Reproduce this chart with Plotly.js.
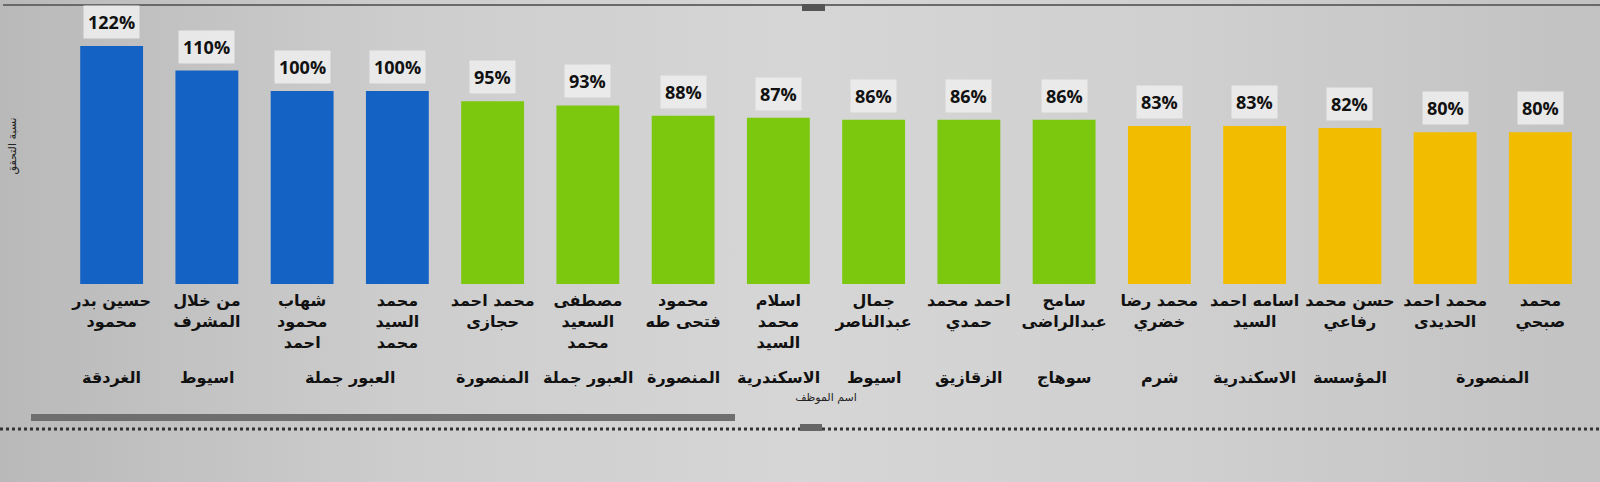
<!DOCTYPE html>
<html>
<head>
<meta charset="utf-8">
<script src="https://cdn.plot.ly/plotly-3.0.1.min.js"></script>
<style>
  html, body { margin: 0; padding: 0; }
  body {
    width: 1600px; height: 482px; overflow: hidden;
    background: linear-gradient(90deg, #b9b9b9 0%, #cdcdcd 25%, #d6d6d6 50%, #cfcfcf 75%, #c2c2c2 100%);
  }
  #chart { width: 1600px; height: 482px; }
</style>
</head>
<body>
<div id="chart"></div>
<script>
// Employee names (tick labels)
const names = [
  "حسين بدر<br>محمود",
  "من خلال<br>المشرف",
  "شهاب<br>محمود<br>احمد",
  "محمد<br>السيد<br>محمد",
  "محمد احمد<br>حجازى",
  "مصطفى<br>السعيد<br>محمد",
  "محمود<br>فتحى طه",
  "اسلام<br>محمد<br>السيد",
  "جمال<br>عبدالناصر",
  "احمد محمد<br>حمدي",
  "سامح<br>عبدالراضى",
  "محمد رضا<br>خضري",
  "اسامه احمد<br>السيد",
  "حسن محمد<br>رفاعي",
  "محمد احمد<br>الحديدى",
  "محمد<br>صبحي"
];
// Branch (outer hierarchy level)
const branches = [
  "الغردقة", "اسيوط", "العبور جملة", "العبور جملة", "المنصورة", "العبور جملة",
  "المنصورة", "الاسكندرية", "اسيوط", "الزقازيق", "سوهاج", "شرم",
  "الاسكندرية", "المؤسسة", "المنصورة", "المنصورة"
];
// Achievement percentage
const achievement = [122, 110, 100, 100, 95, 93, 88, 87, 86, 86, 86, 83, 83, 82, 80, 80];
// Performance band per bar
const band = ["high","high","high","high","mid","mid","mid","mid","mid","mid","mid","low","low","low","low","low"];

const bandColors = { high: "#1463c4", mid: "#7cc80f", low: "#f2bd00" };
const colors = band.map(b => bandColors[b]);

const plotTop = 8, plotBottom = 284;
const plotH = plotBottom - plotTop;
const toPaperY = px => (plotBottom - px) / plotH;

const trace = {
  type: "bar",
  x: names,
  y: achievement,
  marker: { color: colors, line: { width: 0 } },
  hoverinfo: "x+y"
};

const annotations = [];
// data labels
achievement.forEach((v, i) => {
  annotations.push({
    x: i, y: v, xref: "x", yref: "y",
    text: v + "%",
    showarrow: false,
    yanchor: "bottom",
    yshift: 7,
    bgcolor: "rgba(236,236,236,0.92)",
    borderpad: 4,
    font: { family: "Open Sans, Noto Sans, sans-serif", size: 18, color: "#111", weight: 700 }
  });
});
// branch labels (contiguous runs)
let start = 0;
for (let i = 1; i <= branches.length; i++) {
  if (i === branches.length || branches[i] !== branches[start]) {
    annotations.push({
      x: (start + i - 1) / 2, xref: "x",
      y: toPaperY(377), yref: "paper",
      yanchor: "middle",
      text: branches[start],
      showarrow: false,
      font: { family: "DejaVu Sans, sans-serif", size: 16, color: "#111", weight: 700 }
    });
    start = i;
  }
}

const layout = {
  width: 1600, height: 482,
  margin: { l: 64, r: 12, t: plotTop, b: 482 - plotBottom },
  paper_bgcolor: "rgba(0,0,0,0)",
  plot_bgcolor: "rgba(0,0,0,0)",
  bargap: 0.34,
  showlegend: false,
  xaxis: {
    type: "category",
    tickfont: { family: "DejaVu Sans, sans-serif", size: 16, color: "#111", weight: 700 },
    ticks: "", showline: false, showgrid: false, zeroline: false,
    ticklabelstandoff: 5,
    automargin: false,
    title: { text: "اسم الموظف", font: { family: "DejaVu Sans, sans-serif", size: 11, color: "#222" }, standoff: 42 }
  },
  yaxis: {
    range: [6, 140.5],
    showticklabels: false, ticks: "", showgrid: false, zeroline: false, showline: false,
    automargin: false,
    title: { text: "نسبة التحقق", font: { family: "DejaVu Sans, sans-serif", size: 11, color: "#222" }, standoff: 44 }
  },
  annotations: annotations,
  shapes: [
    { type: "line", xref: "paper", yref: "paper", x0: -0.04, x1: 1.01, y0: toPaperY(5), y1: toPaperY(5), line: { color: "#6a6a6a", width: 2 } },
    { type: "rect", xref: "paper", yref: "paper", x0: (802-64)/1524, x1: (825-64)/1524, y0: toPaperY(11), y1: toPaperY(4), fillcolor: "#555", line: { width: 0 } },
    { type: "rect", xref: "paper", yref: "paper", x0: (31-64)/1524, x1: (735-64)/1524, y0: toPaperY(421), y1: toPaperY(414), fillcolor: "#6e6e6e", line: { width: 0 } },
    { type: "line", xref: "paper", yref: "paper", x0: -0.042, x1: 1.008, y0: toPaperY(429), y1: toPaperY(429), line: { color: "#333", width: 3, dash: "dot" } },
    { type: "rect", xref: "paper", yref: "paper", x0: (800-64)/1524, x1: (822-64)/1524, y0: toPaperY(431), y1: toPaperY(424), fillcolor: "#666", line: { width: 0 } }
  ]
};

Plotly.newPlot("chart", [trace], layout, { displayModeBar: false, staticPlot: true });
</script>
</body>
</html>
